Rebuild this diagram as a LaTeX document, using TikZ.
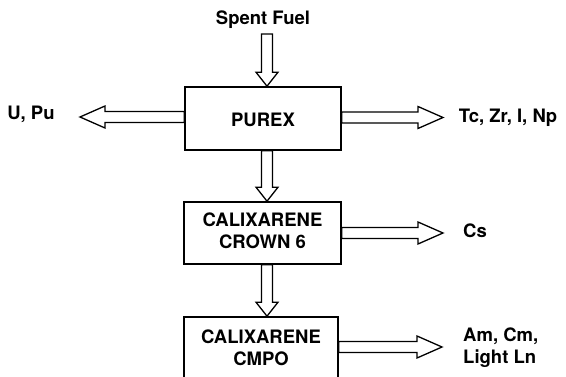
\documentclass[tikz,border=0pt]{standalone}
\usepackage{fontspec}
\setmainfont{TeX Gyre Heros}
\usetikzlibrary{calc}
\tikzset{
  box/.style={draw, line width=1.6pt, inner sep=0pt},
  lbl/.style={font=\fontsize{18.5}{22}\selectfont\bfseries, inner sep=0pt},
  arrowline/.style={draw, line width=1.3pt, line join=miter, fill=white},
}
% #1 head length, #2 start, #3 tip
\newcommand\blockarr[3][25pt]{%
  \coordinate (ba-h) at ($(#3)!#1!(#2)$);
  \draw[arrowline] ($(#2)!5.5pt!90:(#3)$) -- ($(ba-h)!5.5pt!-90:(#2)$)
    -- ($(ba-h)!11pt!-90:(#2)$) -- (#3) -- ($(ba-h)!11pt!90:(#2)$)
    -- ($(ba-h)!5.5pt!90:(#2)$) -- ($(#2)!5.5pt!-90:(#3)$) -- cycle;
}
\begin{document}
\begin{tikzpicture}[x=1pt,y=-1pt]
\clip (0,0) rectangle (566,377);
\fill[white] (0,0) rectangle (566,377);
% boxes
\node[box, minimum width=156pt, minimum height=63pt] (purex) at (263,118.5) {};
\node[lbl] (purexl) at (263,120) {PUREX};
\node[box, minimum width=157pt, minimum height=62pt] (crown) at (262.5,233) {};
\node[lbl, align=center] (crownl) at (262.5,231) {CALIXARENE\\CROWN 6};
\node[box, minimum width=154pt, minimum height=80pt] (cmpo) at (261,357) {};
\node[lbl, align=center] (cmpol) at (261,348) {CALIXARENE\\CMPO};
% outer labels
\node[lbl] (sf) at (263,20) {Spent Fuel};
\node[lbl] (upu) at (31,114) {U, Pu};
\node[lbl] (tc) at (508,118) {Tc, Zr, I, Np};
\node[lbl] (cs) at (475,231) {Cs};
\node[lbl, align=left, anchor=west] (am) at (463,348) {Am, Cm,\\Light Ln};
% arrow coordinates
\coordinate (sfTop) at (267,34);
\coordinate (upTip) at (80,117);
\coordinate (tcTip) at (443,117.5);
\coordinate (csTip) at (443,233);
\coordinate (amTip) at (442,347);
% arrows
\blockarr[14pt]{sfTop}{purex.north -| sfTop}
\blockarr[14pt]{purex.south -| sfTop}{crown.north -| sfTop}
\blockarr[14pt]{crown.south -| sfTop}{cmpo.north -| sfTop}
\blockarr{purex.west |- upTip}{upTip}
\blockarr{purex.east |- tcTip}{tcTip}
\blockarr{crown.east |- csTip}{csTip}
\blockarr{cmpo.east |- amTip}{amTip}
\end{tikzpicture}
\end{document}
